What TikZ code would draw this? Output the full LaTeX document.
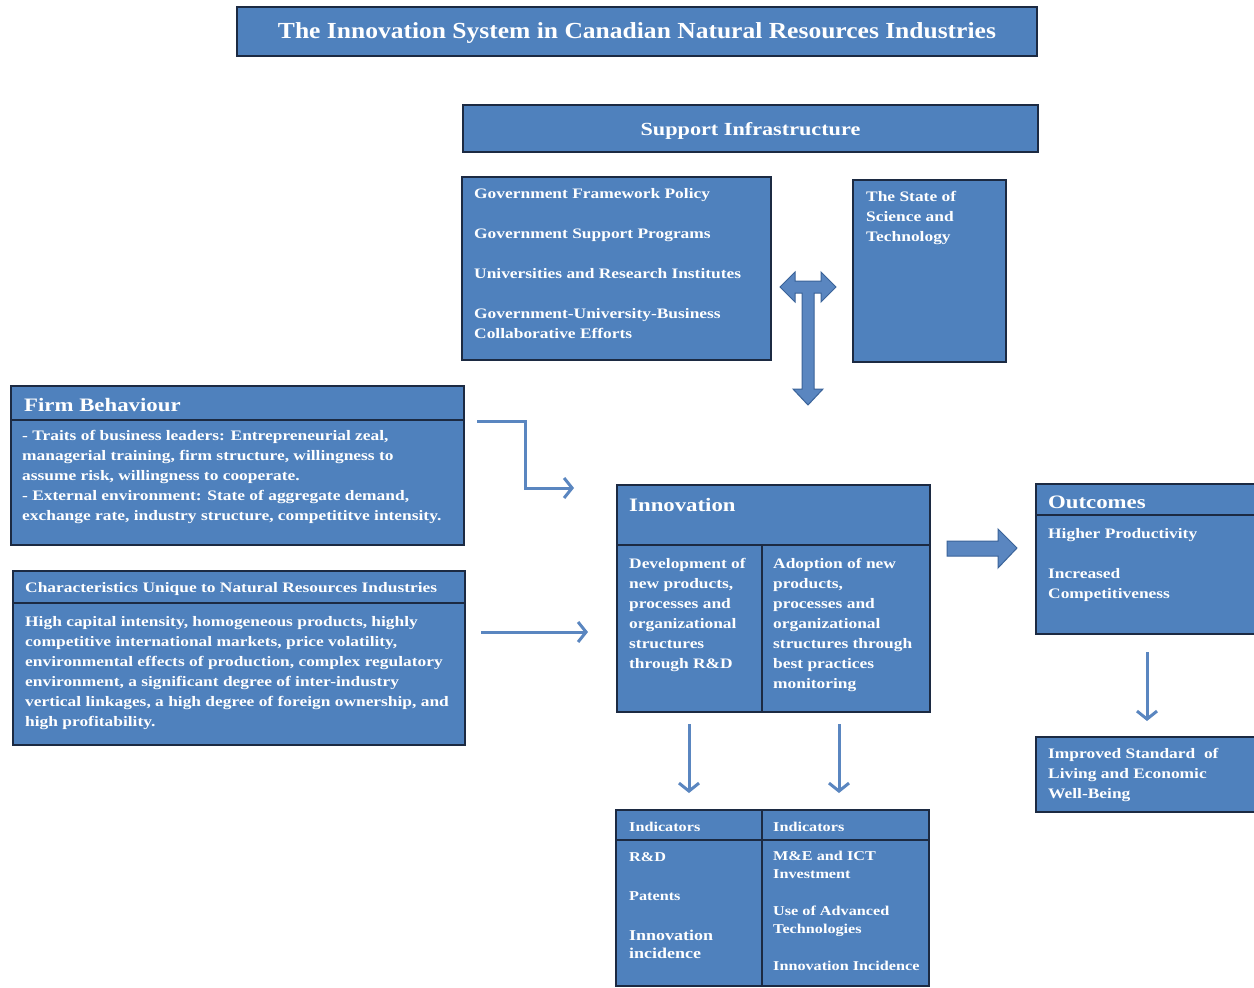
\documentclass[tikz,border=0pt]{standalone}
\usepackage{fontspec}
\setmainfont{Liberation Serif}[FakeStretch=1.2]
\newfontfamily\titlefont{Liberation Serif}[FakeStretch=1.11]
\usetikzlibrary{arrows.meta,calc}
\definecolor{boxblue}{HTML}{4F81BD}
\definecolor{edgecol}{HTML}{1C2A42}
\definecolor{arrowblue}{HTML}{5A86C0}
\definecolor{arrowedge}{HTML}{3A6399}
\begin{document}
\begin{tikzpicture}[x=1pt,y=-1pt,
  box/.style={draw=edgecol, line width=2pt, fill=boxblue, anchor=north west, inner sep=0pt, outer sep=0pt},
  txt/.style={anchor=north west, inner sep=0pt, text=white, align=left, font=\bfseries\fontsize{14.5}{20}\selectfont},
  small/.style={txt, font=\bfseries\fontsize{13.5}{18}\selectfont},
  hdr/.style={txt, font=\bfseries\fontsize{19}{22}\selectfont},
  divider/.style={draw=edgecol, line width=2.5pt},
  thinarrow/.style={draw=arrowblue, line width=3pt, -{Straight Barb[length=8pt,width=20pt,line width=3pt]}},
  blockarrow/.style={fill=arrowblue, draw=arrowedge, line width=1pt, line join=miter}
]
\fill[white] (0,0) rectangle (1254,988);
\useasboundingbox (0,0) rectangle (1254,988);

% Title
\node[box, minimum width=800pt, minimum height=49pt] (title) at (237,7) {};
\node[text=white, font=\titlefont\bfseries\fontsize{23}{26}\selectfont, inner sep=0pt] (titletext) at ($(title.center)+(0,2)$) {The Innovation System in Canadian Natural Resources Industries};

% Support infrastructure
\node[box, minimum width=575pt, minimum height=47pt] (support) at (463,105) {};
\node[text=white, font=\bfseries\fontsize{18.5}{22}\selectfont, inner sep=0pt] (supporttext) at ($(support.center)+(0,2)$) {Support Infrastructure};

\node[box, minimum width=309pt, minimum height=183pt] (gov) at (462,177) {};
\node[txt] (govtext) at (474,188) {Government Framework Policy\\[20pt]Government Support Programs\\[20pt]Universities and Research Institutes\\[20pt]Government-University-Business\\Collaborative Efforts};

\node[box, minimum width=153pt, minimum height=182pt] (sci) at (853,180) {};
\node[txt] (scitext) at (866,191) {The State of\\Science and\\Technology};

% T-shaped block arrow
\coordinate (tcenter) at (808,287);
\filldraw[blockarrow] (780,287) -- (795,272) -- (795,281) -- (821,281) -- (821,272) -- (836,287) -- (821,302) -- (821,293) -- (814,293) -- (814,389) -- (823,389) -- (808,405) -- (793,389) -- (802,389) -- (802,293) -- (795,293) -- (795,302) -- cycle;

% Firm behaviour
\node[box, minimum width=453pt, minimum height=159pt] (firm) at (11,386) {};
\draw[divider] (11,420) -- (464,420);
\node[hdr] (firmhdr) at (24,398) {Firm Behaviour};
\node[txt] (firmtext) at (22,430) {- Traits of business leaders: Entrepreneurial zeal,\\managerial training, firm structure, willingness to\\assume risk, willingness to cooperate.\\- External environment: State of aggregate demand,\\exchange rate, industry structure, competititve intensity.};

% Characteristics
\node[box, minimum width=452pt, minimum height=174pt] (char) at (13,571) {};
\draw[divider] (13,603) -- (465,603);
\node[txt] (charhdr) at (25,582) {Characteristics Unique to Natural Resources Industries};
\node[txt] (chartext) at (25,616) {High capital intensity, homogeneous products, highly\\competitive international markets, price volatility,\\environmental effects of production, complex regulatory\\environment, a significant degree of inter-industry\\vertical linkages, a high degree of foreign ownership, and\\high profitability.};

% Innovation
\node[box, minimum width=313pt, minimum height=227pt] (innov) at (617,485) {};
\draw[divider] (617,545) -- (930,545);
\draw[divider] (762,545) -- (762,712);
\node[hdr] (innovhdr) at (629,498) {Innovation};
\node[txt] (innovleft) at (629,558) {Development of\\new products,\\processes and\\organizational\\structures\\through R\&D};
\node[txt] (innovright) at (773,558) {Adoption of new\\products,\\processes and\\organizational\\structures through\\best practices\\monitoring};

% Outcomes
\node[box, minimum width=222pt, minimum height=150pt] (out) at (1036,484) {};
\draw[divider] (1036,515) -- (1258,515);
\node[hdr] (outhdr) at (1048,496) {Outcomes};
\node[txt] (outtext) at (1048,528) {Higher Productivity\\[20pt]Increased\\Competitiveness};

% Improved standard
\node[box, minimum width=222pt, minimum height=75pt] (impr) at (1036,737) {};
\node[txt] (imprtext) at (1048,748) {Improved Standard\ \ of\\Living and Economic\\Well-Being};

% Indicators
\node[box, minimum width=313pt, minimum height=176pt] (ind) at (616,810) {};
\draw[divider] (616,840) -- (929,840);
\draw[divider] (762,810) -- (762,986);
\node[small] (indhdrl) at (629,822) {Indicators};
\node[small] (indhdrr) at (773,822) {Indicators};
\node[small] (indleft) at (629,852) {R\&D\\[21pt]Patents\\[22pt]{\fontsize{15}{20}\selectfont Innovation}\\{\fontsize{15}{20}\selectfont incidence}};
\node[small] (indright) at (773,851) {M\&E and ICT\\Investment\\[19pt]Use of Advanced\\Technologies\\[19pt]Innovation Incidence};

% Connectors
\coordinate (firmout) at (477,421);
\coordinate (firmbend) at (525,421);
\coordinate (firmin) at (574,488);
\draw[thinarrow, line join=miter] (firmout) -- (firmbend) |- (firmin);

\coordinate (charout) at (481,632);
\coordinate (charin) at (588,632);
\draw[thinarrow] (charout) -- (charin);

\coordinate (devout) at (689,724);
\coordinate (devin) at (689,793);
\draw[thinarrow] (devout) -- (devin);
\coordinate (adoout) at (839,724);
\coordinate (adoin) at (839,793);
\draw[thinarrow] (adoout) -- (adoin);

\coordinate (outdown) at (1147,652);
\coordinate (imprin) at (1147,721);
\draw[thinarrow] (outdown) -- (imprin);

% Innovation -> Outcomes block arrow
\filldraw[blockarrow] (947,541) -- (998,541) -- (998,529) -- (1017,548) -- (998,568) -- (998,556) -- (947,556) -- cycle;
\end{tikzpicture}
\end{document}
